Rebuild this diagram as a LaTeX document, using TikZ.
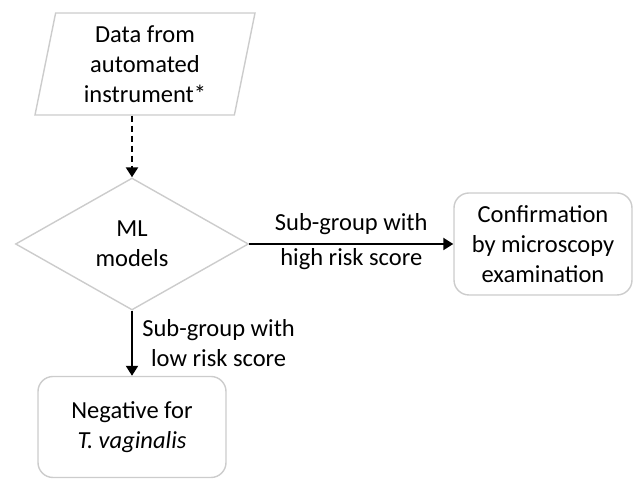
\documentclass[tikz,border=0pt]{standalone}
\usepackage{fontspec}
\setmainfont{Carlito}
\usetikzlibrary{arrows.meta,calc,positioning,shapes.geometric}

\begin{document}
\begin{tikzpicture}[x=1pt,y=1pt,
  txt/.style={align=center,font=\fontsize{24.5}{30}\selectfont},
  box/.style={txt,draw=black!20,line width=1.4pt,fill=white},
  arr/.style={line width=2pt,-{Triangle[length=10pt,width=12pt]}}]
\useasboundingbox (0,0) rectangle (633,479);
\node[box,trapezium,trapezium left angle=75,trapezium right angle=105,
  trapezium stretches body,minimum width=220,minimum height=102,inner sep=0] (data) at (145,415)
  {Data from\\automated\\instrument*};
\node[box,diamond,minimum width=233,minimum height=132,inner sep=0] (ml) at (132,235) {ML\\models};
\node[box,rounded corners=15,minimum width=178,minimum height=102] (conf) at (543,235)
  {Confirmation\\by microscopy\\examination};
\node[box,rounded corners=15,minimum width=188,minimum height=101] (neg) at (132,52)
  {Negative for\\\textit{T. vaginalis}};
% connectors
\draw[arr,line width=2.4pt,dash pattern=on 6pt off 4pt] (ml.north |- data.south) -- (ml.north);
\draw[arr] (ml.east) -- (conf.west)
  node[txt,midway,above=5pt] (hilab) {Sub-group with}
  node[txt,midway,below=0pt] (hilab2) {high risk score};
\draw[arr] (ml.south) -- (neg.north)
  node[txt,midway,right=6pt] (lolab) {Sub-group with\\low risk score};
\end{tikzpicture}
\end{document}
